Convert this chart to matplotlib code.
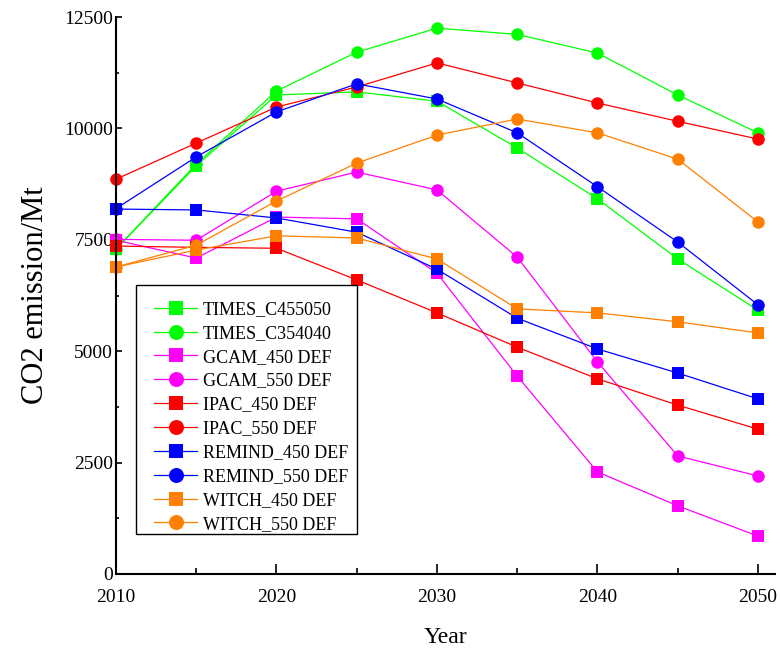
import matplotlib
matplotlib.use("Agg")
import matplotlib.pyplot as plt
from matplotlib.ticker import MultipleLocator
from matplotlib.patches import Rectangle

years = [2010, 2015, 2020, 2025, 2030, 2035, 2040, 2045, 2050]

times_c455050 = [7290, 9160, 10750, 10820, 10610, 9560, 8420, 7070, 5920]
times_c354040 = [7290, 9200, 10840, 11710, 12250, 12110, 11690, 10750, 9900]
gcam_450 = [7490, 7090, 8010, 7970, 6750, 4440, 2290, 1530, 850]
gcam_550 = [7510, 7490, 8590, 9020, 8620, 7110, 4760, 2650, 2200]
ipac_450 = [7360, 7330, 7310, 6600, 5860, 5090, 4380, 3790, 3250]
ipac_550 = [8860, 9670, 10480, 10930, 11470, 11020, 10570, 10160, 9760]
remind_450 = [8190, 8170, 7990, 7670, 6840, 5740, 5050, 4510, 3930]
remind_550 = [8200, 9360, 10370, 11000, 10660, 9900, 8690, 7450, 6040]
witch_450 = [6890, 7270, 7590, 7540, 7070, 5950, 5860, 5660, 5410]
witch_550 = [6890, 7380, 8370, 9220, 9850, 10210, 9900, 9310, 7900]

series = [
    ("TIMES_C455050", times_c455050, "#00FF00", "s"),
    ("TIMES_C354040", times_c354040, "#00FF00", "o"),
    ("GCAM_450 DEF", gcam_450, "#FF00FF", "s"),
    ("GCAM_550 DEF", gcam_550, "#FF00FF", "o"),
    ("IPAC_450 DEF", ipac_450, "#FF0000", "s"),
    ("IPAC_550 DEF", ipac_550, "#FF0000", "o"),
    ("REMIND_450 DEF", remind_450, "#0000FF", "s"),
    ("REMIND_550 DEF", remind_550, "#0000FF", "o"),
    ("WITCH_450 DEF", witch_450, "#FF8000", "s"),
    ("WITCH_550 DEF", witch_550, "#FF8000", "o"),
]

plt.rcParams['font.family'] = ['Liberation Serif', 'DejaVu Serif']

W, H = 780, 648
fig = plt.figure(figsize=(7.8, 6.48), dpi=100)
ax = fig.add_axes([116/W, 1 - 574/H, (775 - 116)/W, (574 - 17)/H])

handles = []
for name, vals, color, mk in series:
    ms = 8.2 if mk == "s" else 9.0
    h, = ax.plot(years, vals, color=color, marker=mk, markersize=ms,
                 linewidth=0.9, markeredgewidth=0, label=name, clip_on=False)
    handles.append(h)

ax.set_xlim(2010, 2051.06)
ax.set_ylim(0, 12500)
ax.xaxis.set_major_locator(MultipleLocator(10))
ax.xaxis.set_minor_locator(MultipleLocator(5))
ax.yaxis.set_major_locator(MultipleLocator(2500))
ax.yaxis.set_minor_locator(MultipleLocator(1250))

for s in ['top', 'right']:
    ax.spines[s].set_visible(False)
for s in ['left', 'bottom']:
    ax.spines[s].set_linewidth(1.5)

ax.tick_params(axis='x', which='major', direction='in', length=7, width=1.2,
               labelsize=14, pad=11)
ax.tick_params(axis='x', which='minor', direction='in', length=4, width=1.2)
ax.tick_params(axis='y', which='major', direction='in', length=4, width=1.2,
               labelsize=14, pad=2)
ax.tick_params(axis='y', which='minor', direction='in', length=2, width=1.2)

ax.set_xlabel("Year", fontsize=17, labelpad=15)
ax.set_ylabel("CO2 emission/Mt", fontsize=22, labelpad=10)

# legend frame (drawn separately to match the asymmetric padding)
frame = Rectangle((136/W, 1 - 534/H), (357 - 136)/W, (534 - 285)/H,
                  transform=fig.transFigure, facecolor='white',
                  edgecolor='black', linewidth=1.0, zorder=5)
fig.add_artist(frame)

leg = fig.legend(handles=handles, loc='upper left',
                 bbox_to_anchor=(154/W, 1 - 301/H),
                 bbox_transform=fig.transFigure, borderaxespad=0,
                 borderpad=0, fontsize=13, frameon=False,
                 handlelength=2.4, handletextpad=0.3, labelspacing=0.38,
                 markerscale=1.2)
leg.set_zorder(6)

fig.savefig("out.png", dpi=100)
